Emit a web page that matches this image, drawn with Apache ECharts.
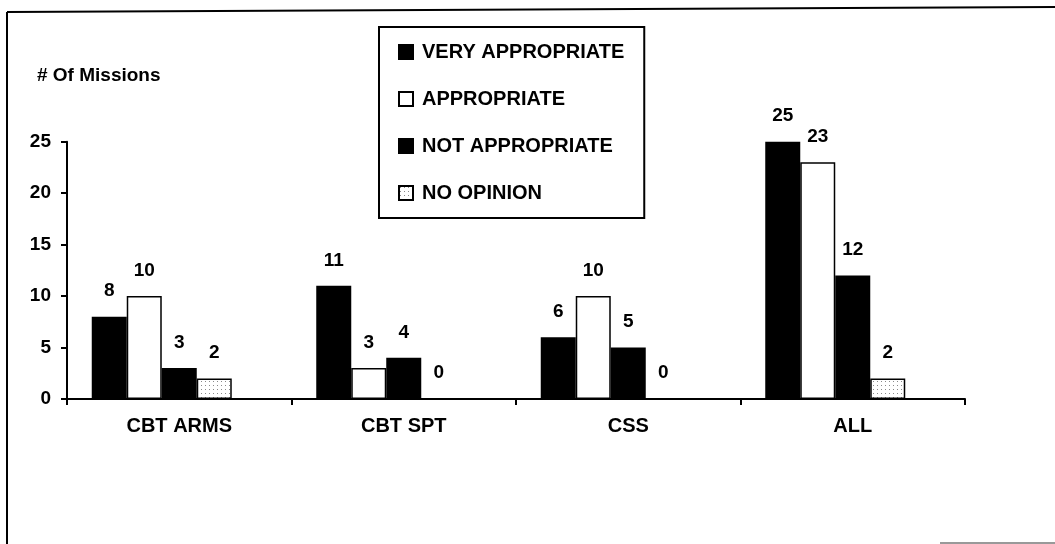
<!DOCTYPE html>
<html>
<head>
<meta charset="utf-8">
<script src="https://cdn.jsdelivr.net/npm/echarts@6/dist/echarts.min.js"></script>
<style>
html,body{margin:0;padding:0;background:#fff;}
#chart{width:1055px;height:544px;}
</style>
</head>
<body>
<div id="chart"></div>
<script>
const categories = ['CBT ARMS', 'CBT SPT', 'CSS', 'ALL'];
const seriesNames = ['VERY APPROPRIATE', 'APPROPRIATE', 'NOT APPROPRIATE', 'NO OPINION'];
const veryAppropriate = [8, 11, 6, 25];
const appropriate = [10, 3, 10, 23];
const notAppropriate = [3, 4, 5, 12];
const noOpinion = [2, 0, 0, 2];
const yTicks = [0, 5, 10, 15, 20, 25];
const yTitle = '# Of Missions';

const FONT = '"Liberation Sans", Arial, sans-serif';

// dotted pattern for "NO OPINION"
const pc = document.createElement('canvas');
pc.width = 4; pc.height = 4;
const pctx = pc.getContext('2d');
pctx.fillStyle = '#ffffff';
pctx.fillRect(0, 0, 4, 4);
pctx.fillStyle = '#8a8a8a';
pctx.fillRect(1, 1, 1, 1);
const dotted = { image: pc, repeat: 'repeat' };

const labelStyle = {
  show: true, position: 'top', distance: 16,
  color: '#000', fontFamily: FONT, fontWeight: 'bold', fontSize: 19
};

function bar(name, data, fill) {
  return {
    name: name, type: 'bar', data: data, barWidth: 35, barGap: '0%',
    itemStyle: { color: fill, borderColor: '#000', borderWidth: 1.5 },
    label: labelStyle,
    emphasis: { disabled: true }
  };
}

const chart = echarts.init(document.getElementById('chart'), null, { renderer: 'canvas' });
chart.setOption({
  animation: false,
  backgroundColor: '#fff',
  title: {
    text: yTitle, left: 32, top: 61,
    textStyle: { fontFamily: FONT, fontWeight: 'bold', fontSize: 19, color: '#000' }
  },
  legend: {
    data: seriesNames,
    orient: 'vertical',
    left: 379, top: 27,
    icon: 'rect',
    itemWidth: 14, itemHeight: 14,
    itemGap: 27,
    padding: [15, 20, 15, 19],
    borderColor: '#000', borderWidth: 2,
    backgroundColor: '#fff',
    selectedMode: false,
    textStyle: { fontFamily: FONT, fontWeight: 'bold', fontSize: 20, color: '#000', lineHeight: 20, padding: [0, 0, 0, 4] }
  },
  grid: { left: 67, right: 90, top: 141.7, bottom: 145, containLabel: false },
  xAxis: {
    type: 'category', data: categories,
    axisLine: { show: true, lineStyle: { color: '#000', width: 2 } },
    axisTick: { show: true, length: 6, lineStyle: { color: '#000', width: 2 } },
    axisLabel: { margin: 17, color: '#000', fontFamily: FONT, fontWeight: 'bold', fontSize: 20 },
    splitLine: { show: false }
  },
  yAxis: {
    type: 'value', min: yTicks[0], max: yTicks[yTicks.length - 1], interval: 5,
    axisLine: { show: true, lineStyle: { color: '#000', width: 2 } },
    axisTick: { show: true, length: 6, lineStyle: { color: '#000', width: 2 } },
    axisLabel: { margin: 16, color: '#000', fontFamily: FONT, fontWeight: 'bold', fontSize: 19 },
    splitLine: { show: false }
  },
  series: [
    bar(seriesNames[0], veryAppropriate, '#000'),
    bar(seriesNames[1], appropriate, '#fff'),
    bar(seriesNames[2], notAppropriate, '#000'),
    bar(seriesNames[3], noOpinion, dotted),
    { name: '_spacer', type: 'bar', data: categories.map(() => null), barWidth: 35, barGap: '0%',
      itemStyle: { color: 'transparent' }, label: { show: false }, silent: true }
  ],
  graphic: [
    { type: 'line', shape: { x1: 7, y1: 12, x2: 1055, y2: 7 }, style: { stroke: '#000', lineWidth: 2 } },
    { type: 'line', shape: { x1: 7, y1: 12, x2: 7, y2: 544 }, style: { stroke: '#000', lineWidth: 2 } },
    { type: 'line', shape: { x1: 940, y1: 543, x2: 1055, y2: 543 }, style: { stroke: '#777', lineWidth: 1.5 } }
  ]
});
</script>
</body>
</html>
